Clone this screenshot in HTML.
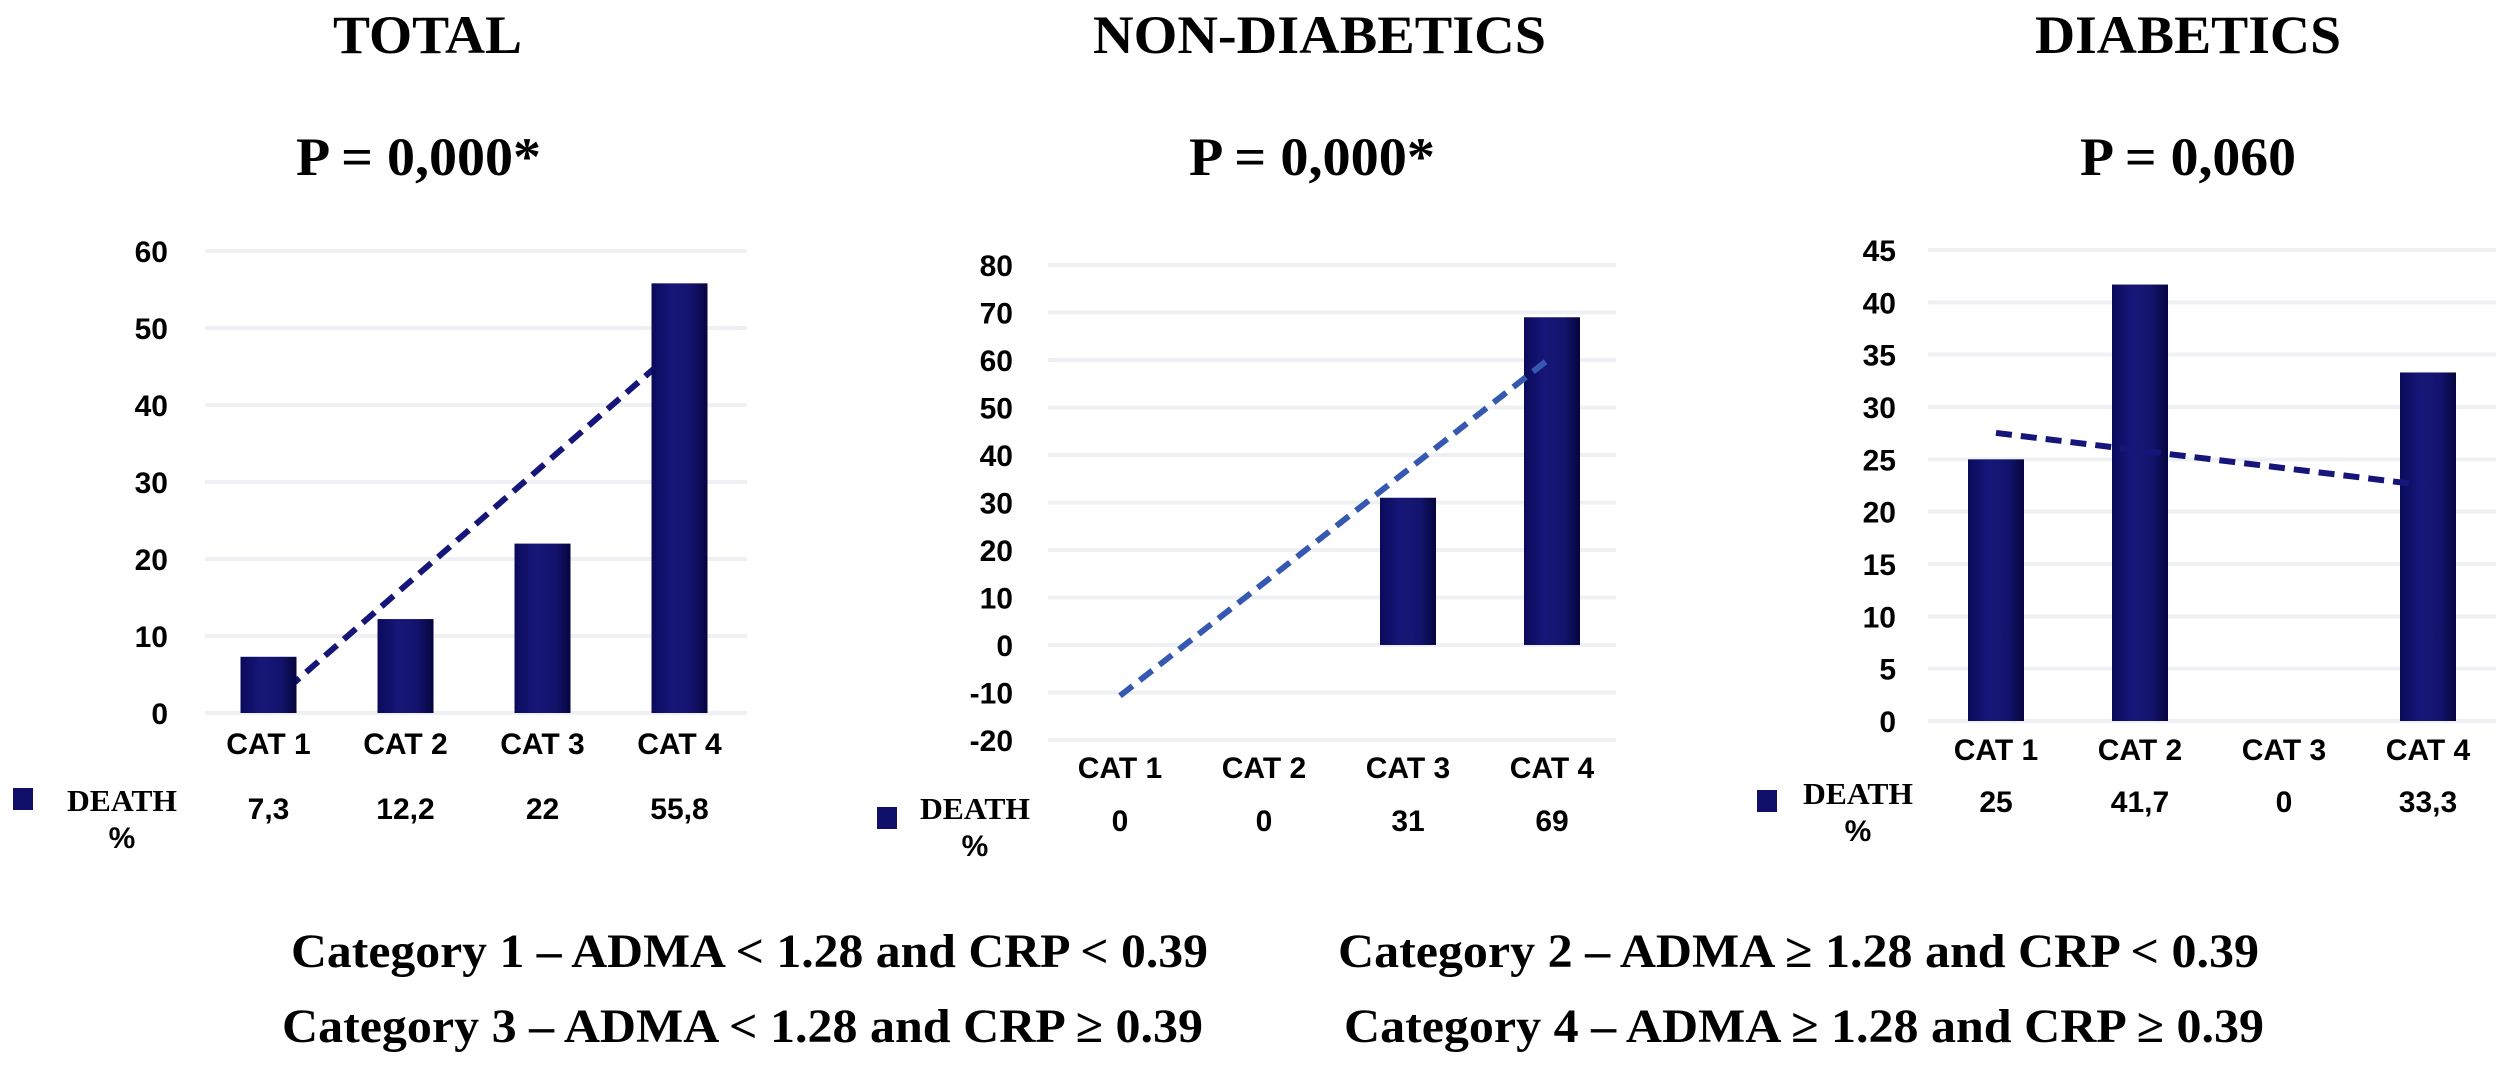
<!DOCTYPE html>
<html><head><meta charset="utf-8"><style>
html,body{margin:0;padding:0;background:#fff;}
svg{display:block;}
.t{font-family:"Liberation Serif",serif;font-weight:bold;fill:#000;}
.s{font-family:"Liberation Sans",sans-serif;font-weight:bold;fill:#000;}
</style></head><body>
<svg id="fig" width="2508" height="1065" viewBox="0 0 2508 1065" xmlns="http://www.w3.org/2000/svg">
<defs>
<linearGradient id="barg" x1="0" x2="1" y1="0" y2="0">
<stop offset="0" stop-color="#0a0a5c"/><stop offset="0.35" stop-color="#161678"/><stop offset="0.7" stop-color="#14146f"/><stop offset="1" stop-color="#05053f"/>
</linearGradient>
</defs>
<text class="t" x="333" y="53" textLength="189" lengthAdjust="spacingAndGlyphs" font-size="54">TOTAL</text>
<text class="t" x="1093" y="53" textLength="453" lengthAdjust="spacingAndGlyphs" font-size="54">NON-DIABETICS</text>
<text class="t" x="2035" y="53" textLength="306" lengthAdjust="spacingAndGlyphs" font-size="54">DIABETICS</text>
<text class="t" x="296" y="175" textLength="245" lengthAdjust="spacingAndGlyphs" font-size="54">P = 0,000*</text>
<text class="t" x="1189" y="175" textLength="246" lengthAdjust="spacingAndGlyphs" font-size="54">P = 0,000*</text>
<text class="t" x="2080" y="175" textLength="216" lengthAdjust="spacingAndGlyphs" font-size="54">P = 0,060</text>
<text class="t" x="291" y="967" textLength="917" lengthAdjust="spacingAndGlyphs" font-size="48">Category 1 – ADMA &lt; 1.28 and CRP &lt; 0.39</text>
<text class="t" x="1338" y="967" textLength="921" lengthAdjust="spacingAndGlyphs" font-size="48">Category 2 – ADMA ≥ 1.28 and CRP &lt; 0.39</text>
<text class="t" x="282" y="1042" textLength="921" lengthAdjust="spacingAndGlyphs" font-size="48">Category 3 – ADMA &lt; 1.28 and CRP ≥ 0.39</text>
<text class="t" x="1344" y="1042" textLength="920" lengthAdjust="spacingAndGlyphs" font-size="48">Category 4 – ADMA ≥ 1.28 and CRP ≥ 0.39</text>
</svg>
<script>
const categories = ["CAT 1","CAT 2","CAT 3","CAT 4"];
const totalValues = [7.3, 12.2, 22, 55.8];
const totalLabels = ["7,3","12,2","22","55,8"];
const totalTicks = [0,10,20,30,40,50,60];
const nonDiabValues = [0, 0, 31, 69];
const nonDiabLabels = ["0","0","31","69"];
const nonDiabTicks = [-20,-10,0,10,20,30,40,50,60,70,80];
const diabValues = [25, 41.7, 0, 33.3];
const diabLabels = ["25","41,7","0","33,3"];
const diabTicks = [0,5,10,15,20,25,30,35,40,45];

const NS = "http://www.w3.org/2000/svg";
const svg = document.getElementById("fig");
function el(tag, attrs, parent){
  const e = document.createElementNS(NS, tag);
  for (const k in attrs) e.setAttribute(k, attrs[k]);
  (parent||svg).appendChild(e);
  return e;
}

function drawChart(cfg){
  const g = el("g", {});
  
  
  const min = cfg.ticks[0], max = cfg.ticks[cfg.ticks.length-1];
  const y = v => cfg.yBottom - (v - min) / (max - min) * (cfg.yBottom - cfg.yTop);
  const x = i => cfg.left + cfg.band * (i + 0.5);
  cfg.ticks.forEach(t => {
    const gl = el("line", {x1: cfg.gridL, x2: cfg.gridR, y1: y(t), y2: y(t), stroke: "#eef0f4", "stroke-width": 4}, g);
    
    
    const tl = el("text", {x: cfg.tickX, y: y(t) + 11, "text-anchor": "end", "font-size": 30, class: "s"}, g);
    tl.textContent = String(t);
    
    
  });
  const n = cfg.values.length;
  const mx = (n - 1) / 2;
  const my = cfg.values.reduce((a, b) => a + b, 0) / n;
  let sxy = 0, sxx = 0;
  cfg.values.forEach((v, i) => { sxy += (i - mx) * (v - my); sxx += (i - mx) * (i - mx); });
  const slope = sxy / sxx;
  const fit = i => my + slope * (i - mx);
  function trend(){
    const tr = el("line", {x1: x(0), y1: y(fit(0)), x2: x(n-1), y2: y(fit(n-1)), stroke: cfg.trendColor, "stroke-width": 6, "stroke-dasharray": "16 9"}, g);
    
    
  }
  if (cfg.trendBehind) trend();
  cfg.values.forEach((v, i) => {
    if (v === 0) return;
    const y0 = y(Math.max(0, min)), y1 = y(v);
    const b = el("rect", {x: x(i) - 28, y: Math.min(y0, y1), width: 56, height: Math.abs(y0 - y1), fill: "url(#barg)"}, g);
    
    
  });
  if (!cfg.trendBehind) trend();
  categories.forEach((c, i) => {
    const cl = el("text", {x: x(i), y: cfg.catY + 11, "text-anchor": "middle", "font-size": 30, class: "s"}, g);
    cl.textContent = c;
    
    
    const vl = el("text", {x: x(i), y: cfg.valY + 11, "text-anchor": "middle", "font-size": 30, class: "s"}, g);
    vl.textContent = cfg.labels[i];
    
    
  });
  const sq = el("rect", {x: cfg.sqX, y: cfg.sqY, width: 20, height: 22, fill: "#10106a"}, g);
  
  
  const dl = el("text", {x: cfg.deathX, y: cfg.deathY + 11, "font-size": 31, class: "t", textLength: 110, lengthAdjust: "spacingAndGlyphs"}, g);
  dl.textContent = "DEATH";
  
  
  const pl = el("text", {x: cfg.deathX + 55, y: cfg.deathY + 48, "text-anchor": "middle", "font-size": 30, class: "s"}, g);
  pl.textContent = "%";
  
  
}

drawChart({name: "chart-total", values: totalValues, labels: totalLabels, ticks: totalTicks,
  yTop: 251, yBottom: 713, left: 200, band: 137, gridL: 205, gridR: 747, tickX: 168,
  catY: 743, valY: 808, sqX: 13, sqY: 788, deathX: 67, deathY: 800, trendColor: "#15157a", trendBehind: true});
drawChart({name: "chart-non-diabetics", values: nonDiabValues, labels: nonDiabLabels, ticks: nonDiabTicks,
  yTop: 265, yBottom: 740, left: 1048, band: 144, gridL: 1048, gridR: 1616, tickX: 1013,
  catY: 767, valY: 820, sqX: 877, sqY: 807, deathX: 920, deathY: 808, trendColor: "#3559b0", trendBehind: false});
drawChart({name: "chart-diabetics", values: diabValues, labels: diabLabels, ticks: diabTicks,
  yTop: 250, yBottom: 721, left: 1924, band: 144, gridL: 1928, gridR: 2496, tickX: 1896,
  catY: 749, valY: 801, sqX: 1757, sqY: 790, deathX: 1803, deathY: 793, trendColor: "#15157a", trendBehind: false});
</script>
</body></html>
